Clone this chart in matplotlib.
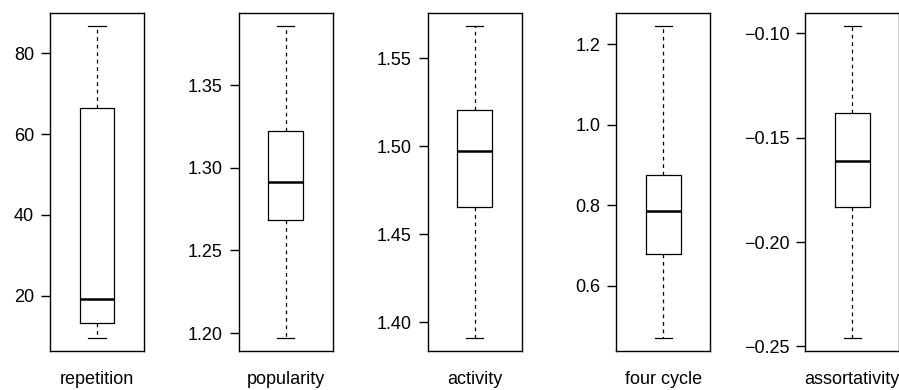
import matplotlib
matplotlib.use("Agg")
import matplotlib.pyplot as plt

plt.rcParams["font.family"] = ["Liberation Sans", "DejaVu Sans"]
plt.rcParams["axes.ymargin"] = 0.04

names = ["repetition", "popularity", "activity", "four cycle", "assortativity"]
whislo = [9.4, 1.1967, 1.3909, 0.4684, -0.2462]
q1 = [13.3, 1.2685, 1.4656, 0.678, -0.1833]
med = [19.2, 1.2917, 1.4974, 0.7854, -0.1610]
q3 = [66.5, 1.3226, 1.5205, 0.875, -0.1381]
whishi = [86.8, 1.386, 1.5685, 1.2455, -0.0964]
yticks = [
    [20, 40, 60, 80],
    [1.20, 1.25, 1.30, 1.35],
    [1.40, 1.45, 1.50, 1.55],
    [0.6, 0.8, 1.0, 1.2],
    [-0.25, -0.20, -0.15, -0.10],
]
ylabels = [
    ["20", "40", "60", "80"],
    ["1.20", "1.25", "1.30", "1.35"],
    ["1.40", "1.45", "1.50", "1.55"],
    ["0.6", "0.8", "1.0", "1.2"],
    ["\u22120.25", "\u22120.20", "\u22120.15", "\u22120.10"],
]

W, H = 899, 390
fig = plt.figure(figsize=(W / 100, H / 100), dpi=100)

lefts = [50, 238.7, 427.7, 616.3, 805.3]
for i, name in enumerate(names):
    ax = fig.add_axes([lefts[i] / W, 39 / H, 94 / W, 337.7 / H])
    stats = [dict(whislo=whislo[i], q1=q1[i], med=med[i], q3=q3[i],
                  whishi=whishi[i], fliers=[])]
    ax.bxp(stats, positions=[1], widths=0.4, capwidths=0.2,
           boxprops=dict(color="black", lw=0.9),
           medianprops=dict(color="black", lw=1.8),
           whiskerprops=dict(color="black", lw=0.9, linestyle=(0, (3, 3))),
           capprops=dict(color="black", lw=0.9),
           showfliers=False)
    ax.set_xlim(0.46, 1.54)
    ax.set_yticks(yticks[i], ylabels[i])
    ax.set_xticks([1], [name])
    ax.tick_params(axis="x", length=0, pad=14.5, labelsize=13)
    ax.tick_params(axis="y", length=6.5, width=1.0, pad=5, labelsize=13)
    for sp in ax.spines.values():
        sp.set_linewidth(1.0)

fig.savefig("out.png", dpi=100)
